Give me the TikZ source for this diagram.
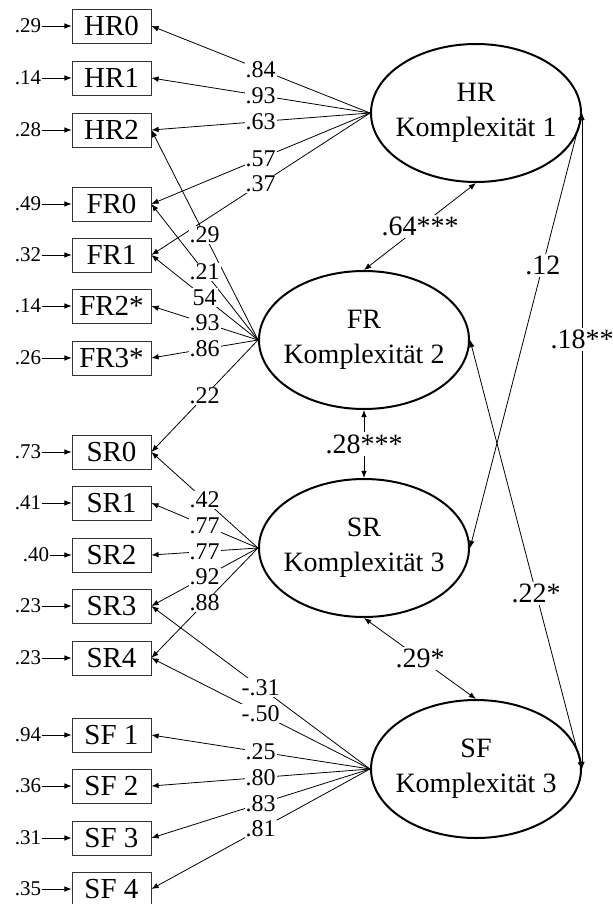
\documentclass[tikz,border=0pt]{standalone}
\usepackage{fontspec}
\setmainfont{Liberation Serif}
\usepackage{tikz}
\usetikzlibrary{shapes.geometric,arrows,arrows.meta,positioning}
\tikzstyle{manifest} = [draw=black!80, rectangle, minimum width=39.5pt, minimum height=17pt,
    inner sep=0pt, font=\fontsize{14.5}{16}\selectfont]
\tikzstyle{latent} = [draw, line width=1pt, ellipse, minimum width=105pt, minimum height=69pt,
    inner sep=0pt, align=center, font=\fontsize{14}{17.5}\selectfont]
\tikzstyle{err} = [inner sep=0pt, font=\fontsize{10.5}{12}\selectfont]
\tikzstyle{load} = [-{Latex[length=3.6pt,width=2.8pt]}, line width=0.4pt]
\tikzstyle{corr} = [{Latex[length=3.6pt,width=2.8pt]}-{Latex[length=3.6pt,width=2.8pt]}, line width=0.4pt]
\tikzstyle{coef} = [fill=white, inner sep=0.6pt, font=\fontsize{12}{14}\selectfont]
\tikzstyle{bigcoef} = [fill=white, inner sep=1pt, font=\fontsize{14}{16}\selectfont]

\begin{document}
\begin{tikzpicture}[x=0.5pt, y=-0.5pt]
\useasboundingbox (0,0) rectangle (613,904);
% latent factors
\node[latent] (HR) at (476,113) {HR\\\makebox[60pt]{Komplexität 1}};
\node[latent] (FR) at (364,340) {FR\\\makebox[60pt]{Komplexität 2}};
\node[latent] (SR) at (364,548) {SR\\\makebox[60pt]{Komplexität 3}};
\node[latent] (SF) at (476,769) {SF\\\makebox[60pt]{Komplexität 3}};
% indicators
\node[manifest] (HR0) at (111.5,26) {HR0};
\node[manifest] (HR1) at (111.5,78) {HR1};
\node[manifest] (HR2) at (111.5,130) {HR2};
\node[manifest] (FR0) at (111.5,204) {FR0};
\node[manifest] (FR1) at (111.5,255) {FR1};
\node[manifest] (FR2) at (111.5,306) {FR2*};
\node[manifest] (FR3) at (111.5,358) {FR3*};
\node[manifest] (SR0) at (111.5,452) {SR0};
\node[manifest] (SR1) at (111.5,503) {SR1};
\node[manifest] (SR2) at (111.5,555) {SR2};
\node[manifest] (SR3) at (111.5,606) {SR3};
\node[manifest] (SR4) at (111.5,658) {SR4};
\node[manifest] (SF1) at (111.5,735) {SF 1};
\node[manifest] (SF2) at (111.5,786) {SF 2};
\node[manifest] (SF3) at (111.5,838) {SF 3};
\node[manifest] (SF4) at (111.5,889) {SF 4};
% error terms
\node[err, left=15pt of HR0] (eHR0) {.29};
\node[err, left=15pt of HR1] (eHR1) {.14};
\node[err, left=15pt of HR2] (eHR2) {.28};
\node[err, left=15pt of FR0] (eFR0) {.49};
\node[err, left=15pt of FR1] (eFR1) {.32};
\node[err, left=15pt of FR2] (eFR2) {.14};
\node[err, left=15pt of FR3] (eFR3) {.26};
\node[err, left=15pt of SR0] (eSR0) {.73};
\node[err, left=15pt of SR1] (eSR1) {.41};
\node[err, left=11pt of SR2] (eSR2) {.40};
\node[err, left=15pt of SR3] (eSR3) {.23};
\node[err, left=15pt of SR4] (eSR4) {.23};
\node[err, left=15pt of SF1] (eSF1) {.94};
\node[err, left=15pt of SF2] (eSF2) {.36};
\node[err, left=15pt of SF3] (eSF3) {.31};
\node[err, left=15pt of SF4] (eSF4) {.35};
\draw[load] (eHR0) -- (HR0);
\draw[load] (eHR1) -- (HR1);
\draw[load] (eHR2) -- (HR2);
\draw[load] (eFR0) -- (FR0);
\draw[load] (eFR1) -- (FR1);
\draw[load] (eFR2) -- (FR2);
\draw[load] (eFR3) -- (FR3);
\draw[load] (eSR0) -- (SR0);
\draw[load] (eSR1) -- (SR1);
\draw[load] (eSR2) -- (SR2);
\draw[load] (eSR3) -- (SR3);
\draw[load] (eSR4) -- (SR4);
\draw[load] (eSF1) -- (SF1);
\draw[load] (eSF2) -- (SF2);
\draw[load] (eSF3) -- (SF3);
\draw[load] (eSF4) -- (SF4);
% loadings
\draw[load] (HR.west) -- node[coef] {.84} (HR0.east);
\draw[load] (HR.west) -- node[coef] {.93} (HR1.east);
\draw[load] (HR.west) -- node[coef] {.63} (HR2.east);
\draw[load] (HR.west) -- node[coef] {.57} (FR0.east);
\draw[load] (HR.west) -- node[coef] {.37} (FR1.east);
\draw[load] (FR.west) -- node[coef] {.29} (HR2.east);
\draw[load] (FR.west) -- node[coef] {.21} (FR0.east);
\draw[load] (FR.west) -- node[coef] {54} (FR1.east);
\draw[load] (FR.west) -- node[coef] {.93} (FR2.east);
\draw[load] (FR.west) -- node[coef] {.86} (FR3.east);
\draw[load] (FR.west) -- node[coef] {.22} (SR0.east);
\draw[load] (SR.west) -- node[coef] {.42} (SR0.east);
\draw[load] (SR.west) -- node[coef] {.77} (SR1.east);
\draw[load] (SR.west) -- node[coef] {.77} (SR2.east);
\draw[load] (SR.west) -- node[coef] {.92} (SR3.east);
\draw[load] (SR.west) -- node[coef] {.88} (SR4.east);
\draw[load] (SF.west) -- node[coef] {-.31} (SR3.east);
\draw[load] (SF.west) -- node[coef] {-.50} (SR4.east);
\draw[load] (SF.west) -- node[coef] {.25} (SF1.east);
\draw[load] (SF.west) -- node[coef] {.80} (SF2.east);
\draw[load] (SF.west) -- node[coef] {.83} (SF3.east);
\draw[load] (SF.west) -- node[coef] {.81} (SF4.east);
% correlations
\draw[corr] (HR.south) -- node[bigcoef] {.64***} (FR.north);
\draw[corr] (FR.south) -- node[bigcoef] {.28***} (SR.north);
\draw[corr] (SR.south) -- node[bigcoef] {.29*} (SF.north);
\draw[corr] (SR.east) -- node[bigcoef, pos=0.65] {.12} (HR.east);
\draw[corr] (FR.east) -- node[bigcoef, pos=0.59] {.22*} (SF.east);
\draw[corr] (HR.east) -- node[bigcoef, pos=0.345] {.18**} (SF.east);
\end{tikzpicture}
\end{document}
